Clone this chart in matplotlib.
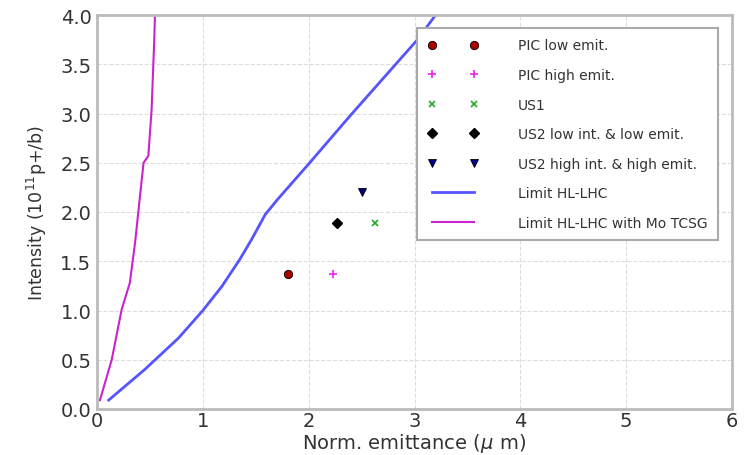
import matplotlib
matplotlib.use("Agg")
import matplotlib.pyplot as plt

# limit curves
hl_emit = [0.11, 0.45, 0.77, 1.0, 1.18, 1.35, 1.46, 1.59, 1.70, 2.01, 2.39, 3.02, 3.20]
hl_int = [0.09, 0.40, 0.72, 1.0, 1.245, 1.52, 1.72, 1.975, 2.12, 2.50, 2.975, 3.74, 4.0]

mo_emit = [0.028, 0.139, 0.233, 0.31, 0.36, 0.406, 0.44, 0.485, 0.516, 0.54, 0.548]
mo_int = [0.09, 0.50, 1.01, 1.28, 1.69, 2.16, 2.5, 2.57, 3.04, 3.72, 4.0]

# scenario points
pic_low = (1.80, 1.37)
pic_high = (2.23, 1.37)
us1 = (2.63, 1.89)
us2_low = (2.27, 1.89)
us2_high = (2.50, 2.20)

fig = plt.figure(figsize=(7.46, 4.56), dpi=100)
ax = fig.add_axes([97 / 746, 1 - 410 / 456, 635 / 746, 394 / 456])

ax.plot(*pic_low, 'o', color='#aa0000', mec='k', mew=0.6, ms=6, label='PIC low emit.')
ax.plot(*pic_high, '+', color='#ee22ee', ms=6, mew=1.2, label='PIC high emit.')
ax.plot(*us1, 'x', color='#22aa22', ms=5, mew=1.2, label='US1')
ax.plot(*us2_low, 'D', color='k', ms=5, label='US2 low int. & low emit.')
ax.plot(*us2_high, 'v', color='#000080', mec='k', mew=0.6, ms=6, label='US2 high int. & high emit.')
ax.plot(hl_emit, hl_int, color='#5555ff', lw=2, label='Limit HL-LHC')
ax.plot(mo_emit, mo_int, color='#cc22cc', lw=1.5, label='Limit HL-LHC with Mo TCSG')

ax.set_xlim(0, 6)
ax.set_ylim(0, 4)
ax.set_xticks(range(7))
ax.set_yticks([0, 0.5, 1, 1.5, 2, 2.5, 3, 3.5, 4])
ax.set_yticklabels(['0.0', '0.5', '1.0', '1.5', '2.0', '2.5', '3.0', '3.5', '4.0'])
ax.grid(True, linestyle='--', color='#dddddd', linewidth=0.8)
ax.tick_params(length=0, labelsize=14, colors='#333333')
ax.tick_params(axis='x', pad=1.5)
ax.tick_params(axis='y', pad=4)
for s in ax.spines.values():
    s.set_color('#bbbbbb')
    s.set_linewidth(2)

ax.set_xlabel(r'Norm. emittance ($\mu$ m)', fontsize=14, color='#333333', labelpad=0.5)
ax.set_ylabel(r'Intensity ($10^{11}$p+/b)', fontsize=12.5, color='#333333', labelpad=8)

leg = ax.legend(loc='upper right', bbox_to_anchor=(0.978, 0.967), borderaxespad=0,
                numpoints=2, fontsize=10, labelspacing=1.12, handlelength=3.6,
                handletextpad=2.9, borderpad=0.75, fancybox=False, framealpha=1,
                edgecolor='#aaaaaa')
leg.get_frame().set_linewidth(1.5)
for t in leg.get_texts():
    t.set_color('#333333')

fig.savefig('out.png', dpi=100)
